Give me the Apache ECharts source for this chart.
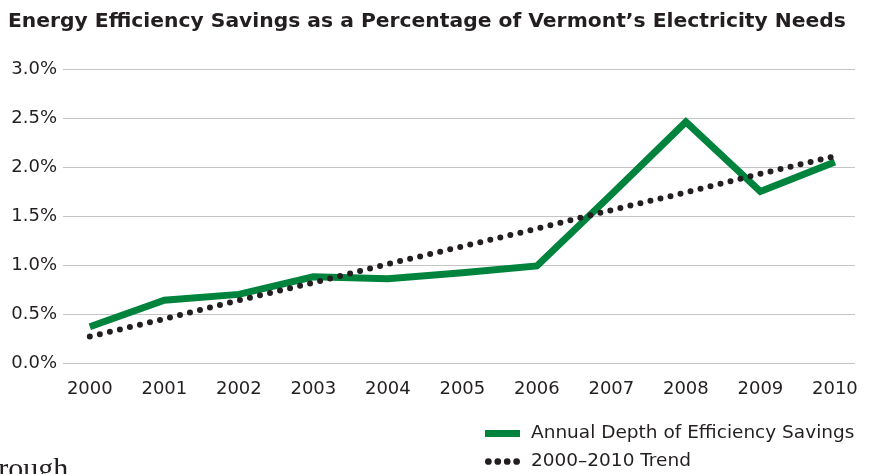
<!DOCTYPE html>
<html><head><meta charset="utf-8">
<script src="https://cdn.jsdelivr.net/npm/echarts@6/dist/echarts.min.js"></script>
<style>html,body{margin:0;padding:0;background:#fff}#c{width:870px;height:474px}</style>
</head><body><div id="c"></div>
<script>
const years = [2000,2001,2002,2003,2004,2005,2006,2007,2008,2009,2010];
const savings = [0.37,0.64,0.70,0.88,0.86,0.92,0.99,1.72,2.46,1.75,2.05];
const trend = [0.27,0.45,0.64,0.82,1.01,1.19,1.37,1.56,1.74,1.93,2.11];
const title = "Energy Efficiency Savings as a Percentage of Vermont’s Electricity Needs";
const seriesNames = ["Annual Depth of Efficiency Savings","2000–2010 Trend"];

const font = "DejaVu Sans";
const ink = '#231f20';
const green = '#00843d';
const legendText = {fontFamily:font,fontSize:18.5,color:ink,padding:[0,0,0,6]};
const chart = echarts.init(document.getElementById('c'), null, {renderer:'canvas'});
chart.setOption({
  animation:false,
  title:{text:title,left:3,top:7,textStyle:{fontFamily:font,fontWeight:'bold',fontSize:20.3,color:ink}},
  grid:{left:63,right:15,top:69,bottom:111},
  xAxis:{type:'value',min:1999.64,max:2010.27,
    axisLine:{show:false},axisTick:{show:false},splitLine:{show:false},
    axisLabel:{customValues:years,formatter:v=>String(v),fontFamily:font,fontSize:18,color:ink,margin:17}},
  yAxis:{type:'value',min:0,max:3,interval:0.5,
    axisLine:{show:false},axisTick:{show:false},
    splitLine:{lineStyle:{color:'#c4c4c4',width:1}},
    axisLabel:{formatter:v=>v.toFixed(1)+'%',fontFamily:font,fontSize:18,color:ink,margin:6}},
  legend:[
    {left:480,top:419,itemWidth:35,itemHeight:7,textStyle:legendText,
      data:[{name:seriesNames[0],icon:'rect',itemStyle:{color:green}}]},
    {left:480,top:447,itemWidth:35,itemHeight:7,textStyle:legendText,
      data:[{name:seriesNames[1],icon:'path://M0,5a5,5 0 1,0 10,0a5,5 0 1,0 -10,0M14,5a5,5 0 1,0 10,0a5,5 0 1,0 -10,0M28,5a5,5 0 1,0 10,0a5,5 0 1,0 -10,0M42,5a5,5 0 1,0 10,0a5,5 0 1,0 -10,0',itemStyle:{color:ink}}]}
  ],
  series:[
    {name:seriesNames[0],type:'line',showSymbol:false,symbol:'none',z:2,
      data:years.map((y,i)=>[y,savings[i]]),
      lineStyle:{color:green,width:7,join:'miter'},itemStyle:{color:green}},
    {name:seriesNames[1],type:'line',showSymbol:false,symbol:'none',z:3,
      data:years.map((y,i)=>[y,trend[i]]),
      lineStyle:{color:ink,width:6,type:[0,10.3],cap:'round'},itemStyle:{color:ink}}
  ],
  graphic:[{type:'text',left:-25,top:455,style:{text:'through',font:'30px "Liberation Serif"',fill:ink}}]
});
</script></body></html>
